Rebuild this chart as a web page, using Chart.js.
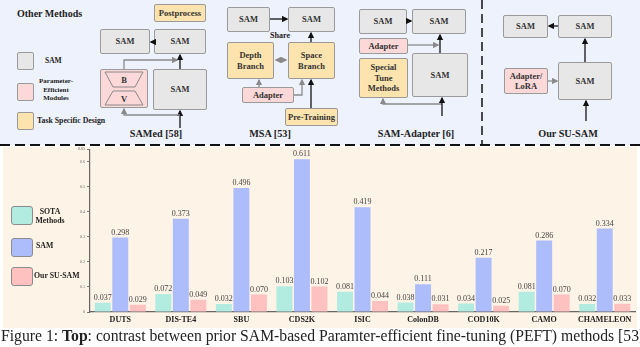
<!DOCTYPE html>
<html><head><meta charset="utf-8">
<script src="https://cdn.jsdelivr.net/npm/chart.js@4.4.1/dist/chart.umd.min.js"></script>
<style>
html,body{margin:0;padding:0;background:#fff;}
body{width:640px;height:347px;position:relative;overflow:hidden;font-family:"Liberation Serif","DejaVu Serif",serif;}
.abs{position:absolute;box-sizing:border-box;}
.box{position:absolute;box-sizing:border-box;border:1.2px solid #9a9a9a;border-radius:2px;display:flex;align-items:center;justify-content:center;text-align:center;font-weight:bold;font-size:8.5px;line-height:10.5px;color:#333;font-family:"Liberation Serif",serif;}
.g{background:#e7e7e7;} .p{background:#fcd8d8;} .o{background:#fde3ad;}
.txt{position:absolute;font-weight:bold;color:#222;white-space:nowrap;font-family:"Liberation Serif",serif;}
#topbg{left:0;top:0;width:640px;height:145px;background:#eef2fc;}
#botbg{left:3px;top:147px;width:634px;height:181px;background:#fdf3e6;}
#caption{position:absolute;left:1px;top:327px;font-size:15.7px;white-space:nowrap;color:#222;font-family:"Liberation Serif",serif;}
canvas{position:absolute;left:0;top:145px;}
</style></head>
<body>
<div id="topbg" class="abs"></div>
<div id="botbg" class="abs"></div>
<div id="diagram"></div>
<svg class="abs" style="left:0;top:0" width="640" height="147" id="lines">
<defs>
<marker id="ab" markerWidth="5" markerHeight="5" refX="4" refY="2.5" orient="auto"><path d="M0,0 L5,2.5 L0,5 z" fill="#111"/></marker>
<marker id="ag" markerWidth="5" markerHeight="5" refX="4" refY="2.5" orient="auto"><path d="M0,0 L5,2.5 L0,5 z" fill="#8a8a8a"/></marker>
<marker id="ags" markerWidth="5" markerHeight="5" refX="1" refY="2.5" orient="auto"><path d="M5,0 L0,2.5 L5,5 z" fill="#8a8a8a"/></marker>
</defs>
<g fill="none" stroke-width="1.3">
<line x1="154" y1="42" x2="151" y2="42" stroke="#111" marker-end="url(#ab)"/>
<line x1="180" y1="69" x2="180" y2="55" stroke="#111" marker-end="url(#ab)"/>
<line x1="180" y1="128" x2="180" y2="111" stroke="#111" marker-end="url(#ab)"/>
<polyline points="124,69 124,60 177,60" stroke="#8a8a8a" marker-end="url(#ag)"/>
<polyline points="180,115 124,115 124,109" stroke="#8a8a8a" marker-end="url(#ag)"/>
<line x1="270" y1="19" x2="287" y2="19" stroke="#111" marker-end="url(#ab)"/>
<line x1="276" y1="60" x2="286" y2="60" stroke="#8a8a8a" marker-end="url(#ag)" marker-start="url(#ags)"/>
<line x1="311" y1="42" x2="311" y2="33" stroke="#111" marker-end="url(#ab)"/>
<line x1="311" y1="108" x2="311" y2="80" stroke="#111" marker-end="url(#ab)"/>
<line x1="259" y1="87" x2="259" y2="80" stroke="#8a8a8a" marker-end="url(#ag)"/>
<polyline points="294,95 302,95 302,80" stroke="#8a8a8a" marker-end="url(#ag)"/>
<line x1="407" y1="21" x2="411" y2="21" stroke="#111" marker-end="url(#ab)"/>
<line x1="408" y1="45" x2="438" y2="45" stroke="#8a8a8a" marker-end="url(#ag)"/>
<line x1="440" y1="53" x2="440" y2="35" stroke="#111" marker-end="url(#ab)"/>
<polyline points="442,104 383,104 383,99" stroke="#8a8a8a" marker-end="url(#ag)"/>
<line x1="442" y1="116" x2="442" y2="98" stroke="#111" marker-end="url(#ab)"/>
<line x1="558" y1="26" x2="549" y2="26" stroke="#111" marker-end="url(#ab)"/>
<line x1="585" y1="62" x2="585" y2="39" stroke="#111" marker-end="url(#ab)"/>
<line x1="548" y1="81" x2="557" y2="81" stroke="#8a8a8a" marker-end="url(#ag)"/>
<line x1="586" y1="121" x2="586" y2="101" stroke="#111" marker-end="url(#ab)"/>
</g>
<path d="M105,72 L143,72 L135,87 L113,87 Z" fill="#fcd8d8" stroke="#8a8a8a" stroke-width="1"/>
<path d="M113,91 L135,91 L143,105 L105,105 Z" fill="#fcd8d8" stroke="#8a8a8a" stroke-width="1"/>
<text x="124" y="83" font-size="8.5" font-weight="bold" text-anchor="middle" fill="#333" font-family="Liberation Serif">B</text>
<text x="124" y="102" font-size="8.5" font-weight="bold" text-anchor="middle" fill="#333" font-family="Liberation Serif">V</text>
<line x1="0" y1="145" x2="640" y2="145" stroke="#111" stroke-width="2" stroke-dasharray="10,5"/>
<line x1="482" y1="0" x2="482" y2="145" stroke="#111" stroke-width="1.5" stroke-dasharray="9,5"/>
</svg>
<canvas id="c" width="640" height="183"></canvas>
<div id="caption">Figure 1: <b>Top</b>: contrast between prior SAM-based Paramter-efficient fine-tuning (PEFT) methods [53]</div>
<script>
// ---- chart data ----
const categories = ["DUTS","DIS-TE4","SBU","CDS2K","ISIC","ColonDB","COD10K","CAMO","CHAMELEON"];
const sotaValues = [0.037,0.072,0.032,0.103,0.081,0.038,0.034,0.081,0.032];
const samValues  = [0.298,0.373,0.496,0.611,0.419,0.111,0.217,0.286,0.334];
const ourValues  = [0.029,0.049,0.070,0.102,0.044,0.031,0.025,0.070,0.033];
const seriesNames = ["SOTA Methods","SAM","Our SU-SAM"];
const yTicks = [0,0.1,0.2,0.3,0.4,0.5,0.6,0.65];
const colors = ["#b2ebdf","#adbdfc","#ffc0c0"];

// ---- diagram (non-data illustration) ----
const D = document.getElementById('diagram');
function box(x,y,w,h,cls,html,fs){const d=document.createElement('div');d.className='box '+cls;d.style.left=x+'px';d.style.top=y+'px';d.style.width=w+'px';d.style.height=h+'px';if(fs)d.style.fontSize=fs+'px';d.innerHTML=html||'';D.appendChild(d);return d;}
function txt(x,y,html,fs,align){const d=document.createElement('div');d.className='txt';d.style.fontSize=fs+'px';d.style.lineHeight=(fs+1.5)+'px';d.innerHTML=html;d.style.top=y+'px';if(align==='c'){d.style.left=x+'px';d.style.transform='translateX(-50%)';d.style.textAlign='center';}else d.style.left=x+'px';D.appendChild(d);return d;}
txt(17,8,'Other Methods',10);
box(17,52,17,18,'g');txt(45,56,'SAM',7.5);
box(17,83,17,18,'p');txt(56,77,'Parameter-<br>Efficient<br>Modules',7,'c');
box(17,112,17,18,'o');txt(37,116,'Task Specific Design',7.8);
box(154,4,52,18,'o','Postprocess');
box(100,29,50,25,'g','SAM');box(154,29,52,25,'g','SAM');
box(100,69,48,39,'p','');
box(153,69,54,41,'g','SAM');
txt(156,128,'SAMed [58]',10.2,'c');
box(227,7,43,25,'g','SAM');box(288,7,47,25,'g','SAM');
txt(280,31,'Share',8,'c');
box(227,42,47,37,'o','Depth<br>Branch');box(288,42,47,37,'o','Space<br>Branch');
box(242,87,52,16,'p','Adapter');
box(285,108,53,18,'o','Pre-Training');
txt(270,128,'MSA [53]',10.2,'c');
box(359,9,48,25,'g','SAM');box(412,9,54,25,'g','SAM');
box(359,38,49,16,'p','Adapter');
box(359,58,49,40,'o','Special<br>Tune<br>Methods');
box(412,53,56,44,'g','SAM');
txt(416,128,'SAM-Adapter [6]',10.2,'c');
box(503,15,45,23,'g','SAM');box(558,15,54,23,'g','SAM');
box(504,68,44,26,'p','Adapter/<br>LoRA');
box(558,62,54,38,'g','SAM');
txt(568,128,'Our SU-SAM',10.2,'c');
// chart legend
const legY=[206,238,267];
seriesNames.forEach((n,i)=>{
  const b=document.createElement('div');b.className='abs';
  Object.assign(b.style,{left:'11px',top:legY[i]+'px',width:'22px',height:'19px',background:colors[i],border:'1.5px solid #8c8c8c',borderRadius:'3px'});
  document.body.appendChild(b);
});
const l1=txt(50,207,'SOTA<br>Methods',7.8,'c');
const l2=txt(36,241,'SAM',7.8);
const l3=txt(34,271,'Our SU-SAM',7.8);
[l1,l2,l3].forEach(e=>document.body.appendChild(e));

// ---- chart ----
const valueLabels = {
  id:'valueLabels',
  afterDatasetsDraw(chart){
    const ctx=chart.ctx;ctx.save();
    ctx.font='8px "Liberation Serif", serif';ctx.fillStyle='#444';ctx.textAlign='center';ctx.textBaseline='bottom';
    chart.data.datasets.forEach((ds,di)=>{
      chart.getDatasetMeta(di).data.forEach((el,i)=>{
        ctx.fillText(ds.data[i].toFixed(3), el.x, el.y-1);
      });
    });
    ctx.restore();
  }
};
new Chart(document.getElementById('c'),{
  type:'bar',
  data:{labels:categories,datasets:[
    {label:seriesNames[0],data:sotaValues,backgroundColor:colors[0]},
    {label:seriesNames[1],data:samValues,backgroundColor:colors[1]},
    {label:seriesNames[2],data:ourValues,backgroundColor:colors[2]}
  ]},
  options:{
    responsive:false,devicePixelRatio:1,animation:false,
    layout:{padding:{left:0,right:5,top:3,bottom:0}},
    categoryPercentage:0.868,barPercentage:0.91,
    plugins:{legend:{display:false},tooltip:{enabled:false}},
    scales:{
      x:{grid:{display:false,drawTicks:false},border:{display:true,color:'#666',width:1.2},
         ticks:{color:'#222',font:{family:'"Liberation Serif", serif',size:8,weight:'bold'},padding:3,maxRotation:0,autoSkip:false},
         afterFit(s){s.height=16;}},
      y:{min:0,max:0.65,
         afterBuildTicks(s){s.ticks=yTicks.map(v=>({value:v}));},
         grid:{drawOnChartArea:false,tickLength:3,color:'#777'},
         border:{display:true,color:'#666',width:1.2},
         ticks:{color:'#666',font:{family:'"Liberation Serif", serif',size:4},padding:2,callback:v=>String(v)},
         afterFit(s){s.width=90;}}
    }
  },
  plugins:[valueLabels]
});
</script>
</body></html>
